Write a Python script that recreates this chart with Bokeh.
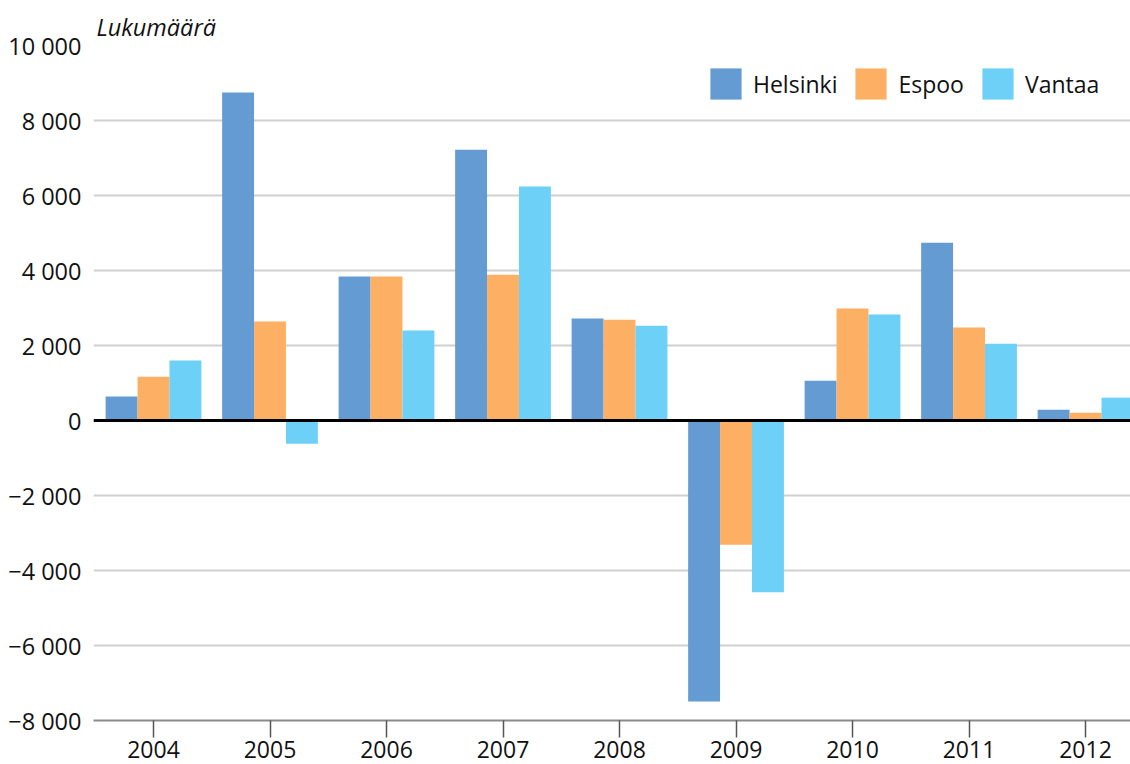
from bokeh.plotting import figure
from bokeh.models import (ColumnDataSource, Range1d, FixedTicker, Span, Legend,
                          LegendItem)
from bokeh.transform import dodge
from bokeh.embed import file_html
from bokeh.resources import INLINE

years = [2004, 2005, 2006, 2007, 2008, 2009, 2010, 2011, 2012]
helsinki = [640, 8750, 3840, 7220, 2720, -7490, 1060, 4740, 290]
espoo = [1170, 2640, 3840, 3890, 2690, -3310, 2990, 2480, 210]
vantaa = [1600, -620, 2400, 6240, 2530, -4580, 2830, 2050, 610]

y_ticks = [-8000, -6000, -4000, -2000, 0, 2000, 4000, 6000, 8000, 10000]
y_tick_labels = ["\u22128 000", "\u22126 000", "\u22124 000", "\u22122 000", "0",
                 "2 000", "4 000", "6 000", "8 000", "10 000"]
series_names = ["Helsinki", "Espoo", "Vantaa"]
colors = ["#659BD3", "#FDB063", "#6DD0F7"]
y_title = "Lukumäärä"

FONT = "Open Sans"

source = ColumnDataSource(dict(year=years, helsinki=helsinki, espoo=espoo, vantaa=vantaa))

p = figure(width=1130, height=764, output_backend="svg", toolbar_location=None,
           x_range=Range1d(2003.485, 2012.386), y_range=Range1d(-8000, 10000),
           min_border_left=93, min_border_right=0, min_border_top=45,
           min_border_bottom=44)
p.outline_line_color = None
p.background_fill_color = "white"

p.title.text = y_title
p.title.align = "left"
p.title.offset = 3
p.title.standoff = 5
p.title.text_font = FONT
p.title.text_font_style = "italic"
p.title.text_font_size = "23.5px"
p.title.text_color = "#111111"

bw = 0.274
renderers = []
for col, off, c in zip(["helsinki", "espoo", "vantaa"], [-bw, 0.0, bw], colors):
    r = p.vbar(x=dodge("year", off), top=col, bottom=0, width=bw, source=source,
               fill_color=c, line_color=None)
    renderers.append(r)

# axes
p.yaxis.ticker = FixedTicker(ticks=y_ticks)
p.yaxis.major_label_overrides = {t: l for t, l in zip(y_ticks, y_tick_labels)}
p.yaxis.axis_line_color = None
p.yaxis.major_tick_line_color = None
p.yaxis.minor_tick_line_color = None
p.yaxis.major_label_standoff = 6
p.yaxis.major_label_text_font = FONT
p.yaxis.major_label_text_font_size = "23.5px"
p.yaxis.major_label_text_color = "#111111"

p.xaxis.ticker = FixedTicker(ticks=years)
p.xaxis.axis_line_color = "#8a8a8a"
p.xaxis.axis_line_width = 2
p.xaxis.major_tick_line_color = "#555555"
p.xaxis.major_tick_line_width = 1.5
p.xaxis.major_tick_out = 17
p.xaxis.major_tick_in = 0
p.xaxis.minor_tick_line_color = None
p.xaxis.major_label_standoff = 3
p.xaxis.major_label_text_font = FONT
p.xaxis.major_label_text_font_size = "23px"
p.xaxis.major_label_text_color = "#111111"

p.xgrid.grid_line_color = None
p.ygrid.ticker = FixedTicker(ticks=y_ticks)
p.ygrid.grid_line_color = "#d0d0d0"
p.ygrid.grid_line_width = 2

p.add_layout(Span(location=0, dimension="width", line_color="black", line_width=3))

legend = Legend(items=[LegendItem(label=n, renderers=[r]) for n, r in zip(series_names, renderers)],
                orientation="horizontal", location=(613, 617),
                glyph_width=39, glyph_height=39, label_standoff=8, spacing=14,
                padding=0, margin=0, border_line_color=None, background_fill_alpha=0,
                label_text_font=FONT, label_text_font_size="23px",
                label_text_color="#111111")
p.add_layout(legend, "center")

open("out.html", "w").write(file_html(p, INLINE))
